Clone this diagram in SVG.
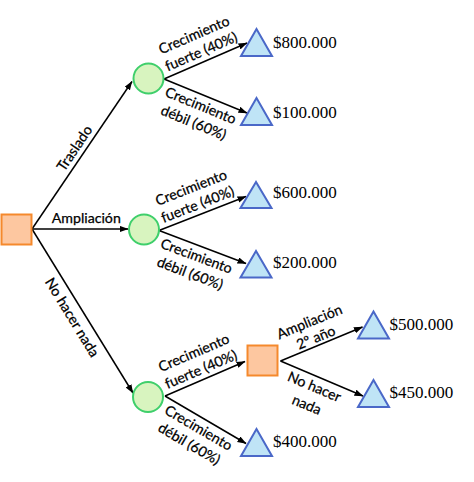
<svg xmlns="http://www.w3.org/2000/svg" width="474" height="482" viewBox="0 0 474 482">
<defs>
<marker id="ah" markerUnits="userSpaceOnUse" markerWidth="9" markerHeight="7" refX="8.5" refY="3.25" orient="auto">
<path d="M0,0 L9,3.25 L0,6.5 z" fill="#000"/>
</marker>
<style>
.edge{stroke:#000;stroke-width:1.5;fill:none;marker-end:url(#ah)}
.chance{fill:#d8f4bf;stroke:#3fcf6b;stroke-width:2}
.dec{fill:#fdc7a0;stroke:#f5892c;stroke-width:2}
.end{fill:#bfe4f6;stroke:#4a68c8;stroke-width:2;stroke-linejoin:miter}
.lbl{font-family:Lato,"Open Sans",sans-serif;font-size:14.2px;fill:#000;stroke:#000;stroke-width:0.25}
.lm{text-anchor:middle}
.val{font-family:"Liberation Serif",serif;font-size:17px;fill:#000}
</style>
</defs>
<rect width="474" height="482" fill="#fff"/>
<g id="connectors">
<path class="edge" d="M32,229 L132,81.5"/>
<path class="edge" d="M32,229 L128,229"/>
<path class="edge" d="M32,229 L133,393"/>
<path class="edge" d="M164,79 L247,43"/>
<path class="edge" d="M164,79 L247,113"/>
<path class="edge" d="M159,230.5 L246,196.5"/>
<path class="edge" d="M159,230.5 L246,263.5"/>
<path class="edge" d="M165,396 L245,361.5"/>
<path class="edge" d="M165,396 L246,443.5"/>
<path class="edge" d="M280.5,361 L362.5,327"/>
<path class="edge" d="M280.5,361 L363,396"/>
</g>
<g id="edge-labels">
<text class="lbl lm" transform="translate(82.8,153.8) rotate(-55.9)" y="-5">Traslado</text>
<text class="lbl" x="51.7" y="222.7">Ampliación</text>
<text class="lbl lm" transform="translate(82.5,311) rotate(58.4)" y="17">No hacer nada</text>
<g class="lbl lm" transform="translate(205.3,61.1) rotate(-23.45)"><text y="-23.5">Crecimiento</text><text y="-5.5">fuerte (40%)</text></g>
<g class="lbl lm" transform="translate(204.7,95.7) rotate(22.3)"><text y="15.5">Crecimiento</text><text y="34">débil (60%)</text></g>
<g class="lbl lm" transform="translate(201.4,214.1) rotate(-21.35)"><text y="-23.5">Crecimiento</text><text y="-5.5">fuerte (40%)</text></g>
<g class="lbl lm" transform="translate(200.2,246.1) rotate(20.5)"><text y="15.5">Crecimiento</text><text y="34">débil (60%)</text></g>
<g class="lbl lm" transform="translate(205,378.9) rotate(-23.2)"><text y="-23.5">Crecimiento</text><text y="-5.5">fuerte (40%)</text></g>
<g class="lbl lm" transform="translate(203.9,418.7) rotate(30.3)"><text y="15.5">Crecimiento</text><text y="34">débil (60%)</text></g>
<g class="lbl lm" transform="translate(319,345.3) rotate(-22.3)"><text y="-20.5">Ampliación</text><text y="-3.5">2º año</text></g>
<g class="lbl lm" transform="translate(318.5,377) rotate(22.96)"><text y="15.6">No hacer</text><text y="35">nada</text></g>
</g>
<g id="root"><rect class="dec" x="1.5" y="214.5" width="30" height="30"/></g>
<g id="c-traslado"><circle class="chance" cx="148.5" cy="78.5" r="15"/></g>
<g id="c-ampliacion"><circle class="chance" cx="144" cy="229.5" r="15"/></g>
<g id="c-nada"><circle class="chance" cx="148" cy="397" r="15"/></g>
<g id="d-second"><rect class="dec" x="247.5" y="345.5" width="30" height="30"/></g>
<g id="t-800"><polygon class="end" points="256.5,29 241,56 272,56"/><text class="val" x="273" y="48">$800.000</text></g>
<g id="t-100"><polygon class="end" points="256.5,98 241,125 272,125"/><text class="val" x="273" y="118">$100.000</text></g>
<g id="t-600"><polygon class="end" points="256,182 240.5,208 271.5,208"/><text class="val" x="273" y="198.3">$600.000</text></g>
<g id="t-200"><polygon class="end" points="256,251 240.5,277.5 271.5,277.5"/><text class="val" x="273" y="268.3">$200.000</text></g>
<g id="t-400"><polygon class="end" points="256.5,429 241,456 272,456"/><text class="val" x="273" y="447.3">$400.000</text></g>
<g id="t-500"><polygon class="end" points="373.5,311.5 358,338.5 389,338.5"/><text class="val" x="389.5" y="330">$500.000</text></g>
<g id="t-450"><polygon class="end" points="373.5,380 358,407 389,407"/><text class="val" x="389.5" y="398.3">$450.000</text></g>
</svg>
